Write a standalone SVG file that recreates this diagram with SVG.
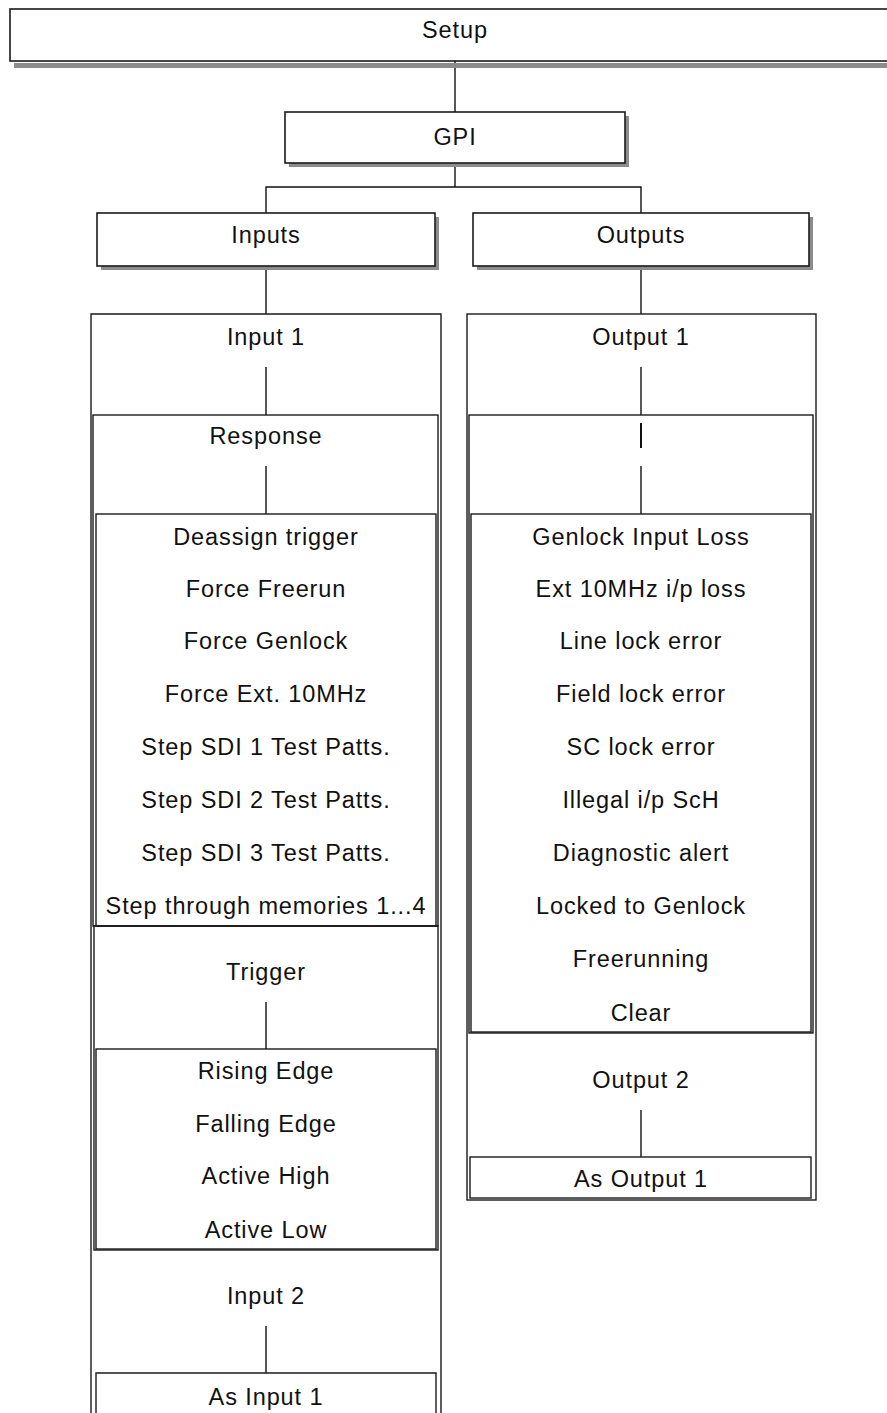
<svg xmlns="http://www.w3.org/2000/svg" width="887" height="1413" viewBox="0 0 887 1413">
<style>
.box{fill:#fff;stroke:#1a1a1a;stroke-width:1.6}
.shadow{fill:#8c8c8c}
.frame{fill:none;stroke:#1a1a1a;stroke-width:1.4}
.t{font-family:"Liberation Sans",Arial,sans-serif;font-size:23.5px;fill:#111;text-anchor:middle;letter-spacing:0.9px}
.c{stroke:#111;stroke-width:1.4;fill:none}
</style>
<rect width="887" height="1413" fill="#fff"/>
<g id="connectors">
<line class="c" x1="455" y1="61" x2="455" y2="112"/>
<line class="c" x1="455" y1="163" x2="455" y2="187"/>
<polyline class="c" points="266,213 266,187 641,187 641,213"/>
<line class="c" x1="266" y1="266" x2="266" y2="314"/>
<line class="c" x1="641" y1="266" x2="641" y2="314"/>
<line class="c" x1="266" y1="367" x2="266" y2="415"/>
<line class="c" x1="641" y1="367" x2="641" y2="415"/>
<line class="c" x1="266" y1="466" x2="266" y2="514"/>
<line class="c" x1="641" y1="466" x2="641" y2="514"/>
<line x1="641" y1="423" x2="641" y2="448" stroke="#111" stroke-width="2"/>
<line class="c" x1="266" y1="1002" x2="266" y2="1049"/>
<line class="c" x1="266" y1="1326" x2="266" y2="1373"/>
<line class="c" x1="641" y1="1110" x2="641" y2="1157"/>
</g>
<g id="setup">
<rect class="shadow" x="14" y="63" width="880" height="5"/>
<rect class="box" x="10" y="9" width="890" height="52" stroke-width="2"/>
<text class="t" x="455" y="38">Setup</text>
</g>
<g id="gpi">
<rect class="shadow" x="289" y="116" width="340" height="51"/>
<rect class="box" x="285" y="112" width="340" height="51"/>
<text class="t" x="455" y="145">GPI</text>
</g>
<g id="inputs">
<rect class="shadow" x="101" y="217" width="338" height="53"/>
<rect class="box" x="97" y="213" width="338" height="53"/>
<text class="t" x="266" y="243">Inputs</text>
</g>
<g id="outputs">
<rect class="shadow" x="477" y="217" width="336" height="53"/>
<rect class="box" x="473" y="213" width="336" height="53"/>
<text class="t" x="641" y="243">Outputs</text>
</g>
<g id="input1">
<path class="frame" d="M91,1420 V314 H441 V1420"/>
<text class="t" x="266" y="345">Input 1</text>
</g>
<g id="response">
<rect class="frame" x="93" y="415" width="345" height="511"/>
<text class="t" x="266" y="444">Response</text>
</g>
<g id="response-list">
<rect class="frame" x="96" y="514" width="340" height="412" stroke-width="1.8"/>
<text class="t" x="266" y="545">Deassign trigger</text>
<text class="t" x="266" y="597">Force Freerun</text>
<text class="t" x="266" y="649">Force Genlock</text>
<text class="t" x="266" y="702">Force Ext. 10MHz</text>
<text class="t" x="266" y="755">Step SDI 1 Test Patts.</text>
<text class="t" x="266" y="808">Step SDI 2 Test Patts.</text>
<text class="t" x="266" y="861">Step SDI 3 Test Patts.</text>
<text class="t" x="266" y="914">Step through memories 1...4</text>
</g>
<g id="trigger">
<rect class="frame" x="94" y="926" width="344" height="324"/>
<text class="t" x="266" y="980">Trigger</text>
</g>
<g id="trigger-list">
<rect class="frame" x="96" y="1049" width="340" height="200" stroke-width="1.8"/>
<text class="t" x="266" y="1079">Rising Edge</text>
<text class="t" x="266" y="1132">Falling Edge</text>
<text class="t" x="266" y="1184">Active High</text>
<text class="t" x="266" y="1238">Active Low</text>
</g>
<g id="input2">
<text class="t" x="266" y="1304">Input 2</text>
</g>
<g id="as-input1">
<path class="frame" d="M96,1420 V1373 H436 V1420"/>
<text class="t" x="266" y="1405">As Input 1</text>
</g>
<g id="output1">
<rect class="frame" x="467" y="314" width="349" height="886"/>
<text class="t" x="641" y="345">Output 1</text>
</g>
<g id="output1-inner">
<rect class="frame" x="469" y="415" width="344" height="618"/>
</g>
<g id="output-list">
<rect class="frame" x="471" y="514" width="340" height="518" stroke-width="1.8"/>
<text class="t" x="641" y="545">Genlock Input Loss</text>
<text class="t" x="641" y="597">Ext 10MHz i/p loss</text>
<text class="t" x="641" y="649">Line lock error</text>
<text class="t" x="641" y="702">Field lock error</text>
<text class="t" x="641" y="755">SC lock error</text>
<text class="t" x="641" y="808">Illegal i/p ScH</text>
<text class="t" x="641" y="861">Diagnostic alert</text>
<text class="t" x="641" y="914">Locked to Genlock</text>
<text class="t" x="641" y="967">Freerunning</text>
<text class="t" x="641" y="1021">Clear</text>
</g>
<g id="output2">
<text class="t" x="641" y="1088">Output 2</text>
</g>
<g id="as-output1">
<rect class="frame" x="470" y="1157" width="341" height="41"/>
<text class="t" x="641" y="1187">As Output 1</text>
</g>
</svg>
